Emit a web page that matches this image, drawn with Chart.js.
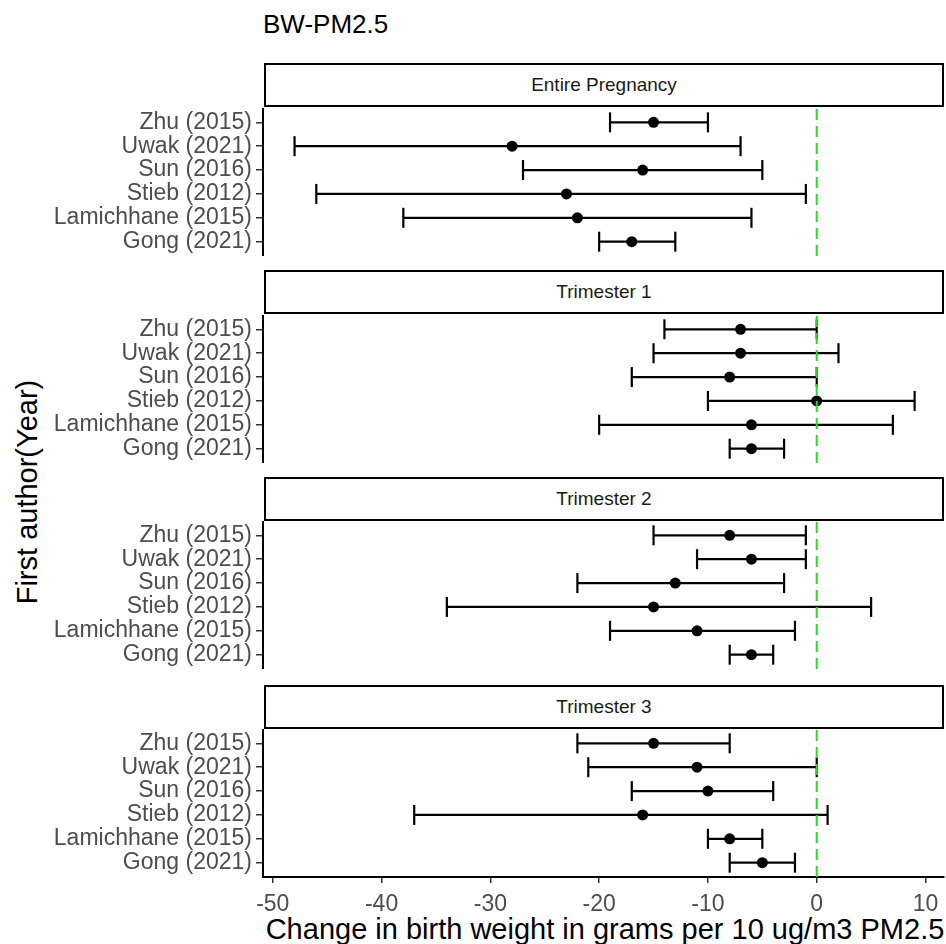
<!DOCTYPE html>
<html>
<head>
<meta charset="utf-8">
<script src="https://cdn.jsdelivr.net/npm/chart.js@4/dist/chart.umd.min.js"></script>
<style>
  html, body { margin:0; padding:0; background:#fff; }
  body { width:946px; height:944px; position:relative; overflow:hidden; font-family:"Liberation Sans", Arial, sans-serif; }
  .abs { position:absolute; }
  .title { left:263px; top:11px; font-size:26px; line-height:26px; color:#000; }
  .strip { left:264px; width:676px; height:40px; border:2px solid #000; background:#fff;
           font-size:19px; line-height:40px; text-align:center; color:#1a1a1a; }
  .ytitle { left:27px; top:492px; font-size:29px; line-height:29px; white-space:nowrap; color:#000;
            transform:translate(-50%,-50%) rotate(-90deg); }
  .xtitle { left:605px; top:915px; font-size:29px; line-height:29px; white-space:nowrap; color:#000;
            transform:translateX(-50%); }
</style>
</head>
<body>
<div class="abs title">BW-PM2.5</div>
<div class="abs ytitle">First author(Year)</div>
<div class="abs xtitle">Change in birth weight in grams per 10 ug/m3 PM2.5</div>

<script>
// facet labels and study rows (top to bottom)
const periods = ['Entire Pregnancy', 'Trimester 1', 'Trimester 2', 'Trimester 3'];
const studies = ['Zhu (2015)', 'Uwak (2021)', 'Sun (2016)', 'Stieb (2012)', 'Lamichhane (2015)', 'Gong (2021)'];

// point estimates and 95% CI, one array per facet, same order as studies
const estEntire  = [-15, -28, -16, -23, -22, -17];
const lowEntire  = [-19, -48, -27, -46, -38, -20];
const highEntire = [-10,  -7,  -5,  -1,  -6, -13];

const estT1  = [ -7,  -7,  -8,   0,  -6,  -6];
const lowT1  = [-14, -15, -17, -10, -20,  -8];
const highT1 = [  0,   2,   0,   9,   7,  -3];

const estT2  = [ -8,  -6, -13, -15, -11,  -6];
const lowT2  = [-15, -11, -22, -34, -19,  -8];
const highT2 = [ -1,  -1,  -3,   5,  -2,  -4];

const estT3  = [-15, -11, -10, -16,  -8,  -5];
const lowT3  = [-22, -21, -17, -37, -10,  -8];
const highT3 = [ -8,   0,  -4,   1,  -5,  -2];

const xTicks = [-50, -40, -30, -20, -10, 0, 10];
const refLine = 0;

const facetEst  = [estEntire, estT1, estT2, estT3];
const facetLow  = [lowEntire, lowT1, lowT2, lowT3];
const facetHigh = [highEntire, highT1, highT2, highT3];

// layout (pixels)
const stripTops = [63, 270, 477, 685];
const plotTops = [108, 315, 521, 729];
const PLOT_H = 148;
const AXIS_LEFT = 263;
const XAXIS_H = 42;
const FONT = '"Liberation Sans", Arial, sans-serif';

const n = studies.length;
const yOf = i => n - i;           // Zhu on top
const xMin = -50.9, xMax = 11.7;

function makePanel(k){
  const last = k === periods.length - 1;

  const strip = document.createElement('div');
  strip.className = 'abs strip';
  strip.style.top = stripTops[k] + 'px';
  strip.textContent = periods[k];
  document.body.appendChild(strip);

  const cv = document.createElement('canvas');
  const h = PLOT_H + (last ? XAXIS_H : 0);
  cv.width = 946; cv.height = h;
  cv.className = 'abs';
  cv.style.left = '0px'; cv.style.top = plotTops[k] + 'px';
  cv.style.width = '946px'; cv.style.height = h + 'px';
  document.body.appendChild(cv);

  const datasets = [];
  // reference line at zero, drawn on top
  datasets.push({
    data:[{x:refLine, y:0.4}, {x:refLine, y:n + 0.6}],
    showLine:true, borderColor:'#22dd22', borderWidth:2, borderDash:[11,6],
    pointRadius:0, order:0
  });
  studies.forEach((s, i) => {
    datasets.push({
      data:[{x:facetLow[k][i], y:yOf(i)}, {x:facetHigh[k][i], y:yOf(i)}],
      showLine:true, borderColor:'#000', borderWidth:2.2,
      pointStyle:'line', pointRotation:90, pointRadius:10,
      pointBorderColor:'#000', pointBorderWidth:2.2, order:2
    });
  });
  datasets.push({
    data: studies.map((s, i) => ({x:facetEst[k][i], y:yOf(i)})),
    showLine:false, pointRadius:5.5, pointBackgroundColor:'#000',
    pointBorderColor:'#000', pointBorderWidth:0, order:1
  });

  new Chart(cv.getContext('2d'), {
    type:'scatter',
    data:{ datasets },
    options:{
      responsive:false, animation:false, events:[],
      layout:{ autoPadding:false, padding:{ left:0, right:2, top:0, bottom:0 } },
      plugins:{ legend:{display:false}, tooltip:{enabled:false} },
      scales:{
        x:{
          type:'linear', min:xMin, max:xMax, display:last,
          afterBuildTicks: sc => { sc.ticks = xTicks.map(v => ({value:v})); },
          afterFit: sc => { sc.height = last ? XAXIS_H : 0; sc.paddingLeft = 0; sc.paddingRight = 0; },
          grid:{ drawOnChartArea:false, tickLength:6, color:'#333', lineWidth:1.5 },
          border:{ color:'#000', width:2 },
          ticks:{ font:{ family:FONT, size:23 }, color:'#4d4d4d', padding:8, maxRotation:0, autoSkip:false }
        },
        y:{
          type:'linear', min:0.4, max:n + 0.6,
          afterBuildTicks: sc => { sc.ticks = studies.map((s, i) => ({value:yOf(i)})); },
          afterFit: sc => { sc.width = AXIS_LEFT; sc.paddingTop = 0; sc.paddingBottom = 0; },
          grid:{ drawOnChartArea:false, tickLength:7, color:'#333', lineWidth:1.5 },
          border:{ color:'#000', width:2 },
          ticks:{ font:{ family:FONT, size:23 }, color:'#4d4d4d', padding:4, autoSkip:false,
                  callback: v => studies[n - v] }
        }
      }
    }
  });
}

periods.forEach((p, k) => makePanel(k));
</script>
</body>
</html>
